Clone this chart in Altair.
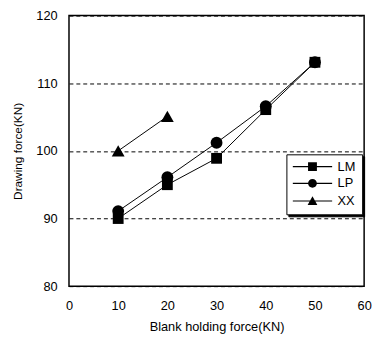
import altair as alt
import pandas as pd

blank_force = [10, 20, 30, 40, 50]
lm = [90.0, 95.0, 98.9, 106.1, 113.1]
lp = [91.1, 96.1, 101.2, 106.6, 113.1]
xx_force = [10, 20]
xx = [100.0, 105.1]
series = ["LM", "LP", "XX"]

rows = []
for x, y in zip(blank_force, lm):
    rows.append({"s": "LM", "x": x, "y": y})
for x, y in zip(blank_force, lp):
    rows.append({"s": "LP", "x": x, "y": y})
for x, y in zip(xx_force, xx):
    rows.append({"s": "XX", "x": x, "y": y})
df = pd.DataFrame(rows)

FONT = "Liberation Sans"

xenc = alt.X("x:Q", scale=alt.Scale(domain=[0, 60]),
             axis=alt.Axis(values=[0, 10, 20, 30, 40, 50, 60], title="Blank holding force(KN)",
                           grid=False, ticks=False, labelPadding=14, domain=False, labelFlush=False,
                           labelFontSize=13, titleFontSize=13, titleFontWeight="normal",
                           titlePadding=8, labelColor="black", titleColor="black", labelFont=FONT, titleFont=FONT))
yenc = alt.Y("y:Q", scale=alt.Scale(domain=[80, 120]),
             axis=alt.Axis(values=[80, 90, 100, 110, 120], title="Drawing force(KN)",
                           grid=True, gridDash=[4, 3], gridColor="black", gridOpacity=1, gridWidth=1,
                           ticks=False, labelPadding=12, domain=False, labelFlush=False,
                           labelFontSize=13, titleFontSize=12, titleFontWeight="normal",
                           titlePadding=12, labelColor="black", titleColor="black", labelFont=FONT, titleFont=FONT))

lines = alt.Chart(df).mark_line(color="black", strokeWidth=1).encode(
    x=xenc, y=yenc, detail="s:N")

points = alt.Chart(df).mark_point(filled=True, color="black", opacity=1).encode(
    x="x:Q", y="y:Q",
    shape=alt.Shape("s:N", scale=alt.Scale(domain=series, range=["square", "circle", "triangle-up"]),
                    legend=None),
    size=alt.Size("s:N", scale=alt.Scale(domain=series, range=[121, 170, 190]), legend=None),
)

# legend symbols: a thin filled bar (the line) plus the marker
bar = "M-4.44,-0.12H4.44V0.12H-4.44Z"
legend_paths = [
    bar + "M-1,-1H1V1H-1Z",
    bar + "M1,0A1,1,0,1,1,-1,0A1,1,0,1,1,1,0Z",
    bar + "M0,-1.1L1.1,0.9H-1.1Z",
]


def legend_layer(dx, dy, fill, label_offset, label_expr=None):
    kw = {}
    if label_expr is not None:
        kw["labelExpr"] = label_expr
    return alt.Chart(df).mark_point(filled=True, color="black", size=81, opacity=0).encode(
        x="x:Q", y="y:Q",
        shape=alt.Shape("s:N", scale=alt.Scale(domain=series, range=legend_paths),
                        legend=alt.Legend(title=None, orient="none", legendX=221 + dx, legendY=141 + dy,
                                          strokeColor="black", fillColor=fill, padding=6,
                                          symbolSize=81, symbolFillColor="black",
                                          symbolOpacity=1, labelFontSize=13, labelFont=FONT,
                                          labelColor="black", labelOffset=label_offset, rowPadding=2,
                                          symbolOffset=14, **kw))
    )


shadow = legend_layer(2, 2, "black", 38, "''")
main = legend_layer(0, 0, "white", 19)

chart = alt.layer(lines, points, shadow, main).resolve_scale(shape="independent").resolve_legend(
    shape="independent").properties(
    width=300, height=275,
    autosize=alt.AutoSizeParams(type="none"),
    padding={"left": 62, "top": 5, "right": 8, "bottom": 52},
).configure_view(stroke="black", strokeWidth=1.5)

chart.save("out.html", embed_options={"renderer": "svg", "actions": False})
